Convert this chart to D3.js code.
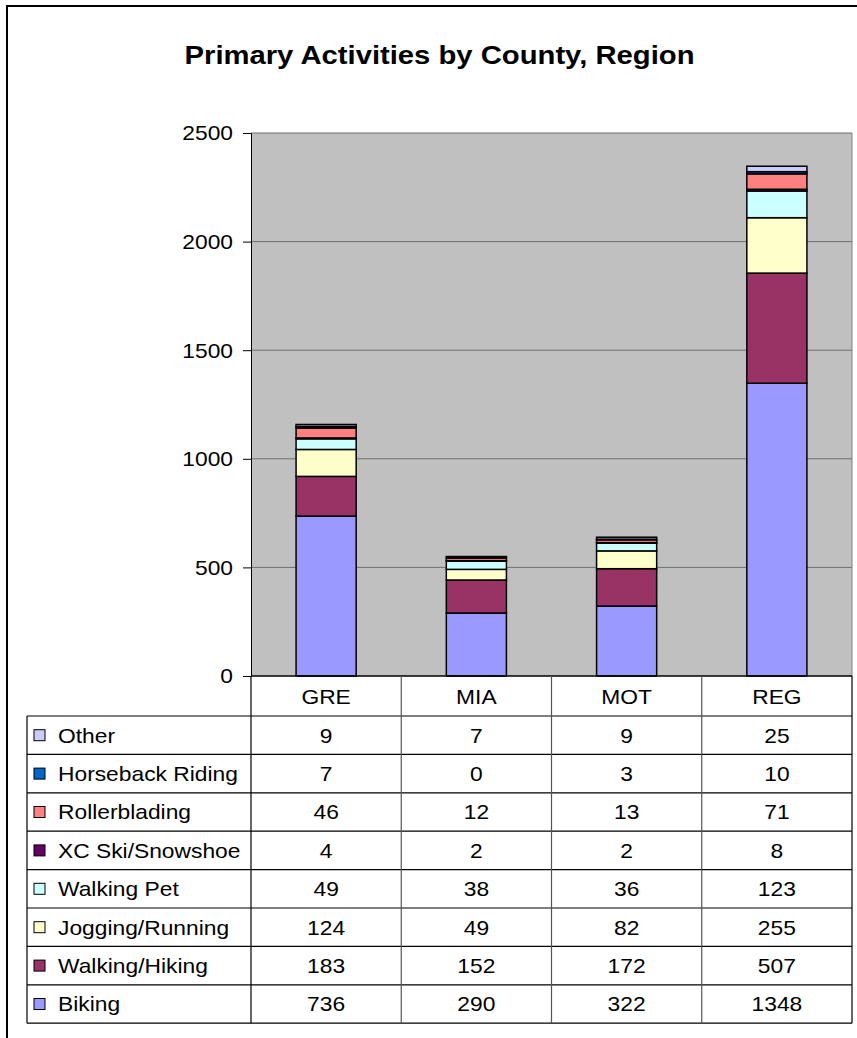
<!DOCTYPE html>
<html>
<head>
<meta charset="utf-8">
<script src="https://cdn.jsdelivr.net/npm/d3@7"></script>
<style>
  html, body { margin: 0; padding: 0; background: #fff; }
  svg { display: block; }
  text { font-family: "Liberation Sans", Arial, sans-serif; fill: #000; }
</style>
</head>
<body>
<svg id="chart" width="857" height="1038"></svg>
<script>
// Counties / region shown along the category axis
const categories = ["GRE", "MIA", "MOT", "REG"];

// Activities, bottom of the stack first
const activities = [
  "Biking", "Walking/Hiking", "Jogging/Running", "Walking Pet",
  "XC Ski/Snowshoe", "Rollerblading", "Horseback Riding", "Other"
];

// Counts per activity, in category order
const biking          = [736, 290, 322, 1348];
const walkingHiking   = [183, 152, 172, 507];
const joggingRunning  = [124, 49, 82, 255];
const walkingPet      = [49, 38, 36, 123];
const xcSkiSnowshoe   = [4, 2, 2, 8];
const rollerblading   = [46, 12, 13, 71];
const horsebackRiding = [7, 0, 3, 10];
const other           = [9, 7, 9, 25];

const seriesValues = [biking, walkingHiking, joggingRunning, walkingPet,
                      xcSkiSnowshoe, rollerblading, horsebackRiding, other];

const yTicks = [0, 500, 1000, 1500, 2000, 2500];

const colors = ["#9999FF", "#993366", "#FFFFCC", "#CCFFFF",
                "#660066", "#FF8080", "#0066CC", "#CCCCFF"];

const title = "Primary Activities by County, Region";

// ---- layout ----
const plot = { left: 251, right: 852, top: 133, bottom: 676 };
const table = { left: 27, headerH: 40, rowH: 38.4 };
const sx = 1.14;     // horizontal stretch of all text
const fs = 20;

const svg = d3.select("#chart");

// rows keyed by category for d3.stack
const rows = categories.map((c, i) => {
  const r = { category: c };
  activities.forEach((a, k) => { r[a] = seriesValues[k][i]; });
  return r;
});
const stacked = d3.stack().keys(activities)(rows);

const x = d3.scaleBand().domain(categories)
  .range([plot.left, plot.right]).paddingInner(0.6).paddingOuter(0.3);
const xCol = d3.scaleBand().domain(categories).range([plot.left, plot.right]);
const y = d3.scaleLinear().domain([0, 2500]).range([plot.bottom, plot.top]);

function stretchedText(parent, tx, ty, str, opts = {}) {
  const g = parent.append("g")
    .attr("transform", `translate(${tx},${ty}) scale(${opts.sx || sx},1)`);
  g.append("text")
    .attr("text-anchor", opts.anchor || "start")
    .attr("font-size", opts.size || fs)
    .attr("font-weight", opts.weight || "normal")
    .text(str);
  return g;
}

// outer frame
svg.append("rect")
  .attr("x", 7).attr("y", 6).attr("width", 900).attr("height", 1100)
  .attr("fill", "#fff").attr("stroke", "#000").attr("stroke-width", 2);

// title
stretchedText(svg, 439.5, 64, title, { anchor: "middle", size: 25, weight: "bold", sx: 1.17 });

// plot background
svg.append("rect")
  .attr("x", plot.left).attr("y", plot.top)
  .attr("width", plot.right - plot.left).attr("height", plot.bottom - plot.top)
  .attr("fill", "#C0C0C0");

// gridlines
svg.append("g").selectAll("line")
  .data(yTicks.filter(t => t > 0))
  .join("line")
  .attr("x1", plot.left).attr("x2", plot.right)
  .attr("y1", d => y(d)).attr("y2", d => y(d))
  .attr("stroke", "#6e6e6e").attr("stroke-width", 1);

// plot border (right side)
svg.append("line")
  .attr("x1", plot.right).attr("x2", plot.right)
  .attr("y1", plot.top).attr("y2", plot.bottom)
  .attr("stroke", "#808080").attr("stroke-width", 1);

// stacked bars
svg.append("g").selectAll("g")
  .data(stacked)
  .join("g")
  .attr("fill", (d, i) => colors[i])
  .selectAll("rect")
  .data(d => d)
  .join("rect")
  .attr("x", d => x(d.data.category))
  .attr("width", x.bandwidth())
  .attr("y", d => y(d[1]))
  .attr("height", d => y(d[0]) - y(d[1]))
  .attr("stroke", "#000").attr("stroke-width", 1.5);

// y axis
const yAxis = svg.append("g")
  .attr("transform", `translate(${plot.left},0)`)
  .call(d3.axisLeft(y).tickValues(yTicks).tickSize(8).tickFormat(""));
yAxis.select(".domain").attr("stroke", "#000");
yAxis.selectAll(".tick line").attr("stroke", "#000");
yTicks.forEach(t => {
  stretchedText(svg, 233, y(t) + 7.3, String(t), { anchor: "end" });
});

// ---- data table ----
const tableTop = plot.bottom + table.headerH;
const tableBottom = tableTop + table.rowH * activities.length;
const lines = svg.append("g").attr("stroke", "#000").attr("stroke-width", 1.2);

// axis line along the top of the header row
lines.append("line").attr("x1", plot.left).attr("x2", plot.right)
  .attr("y1", plot.bottom).attr("y2", plot.bottom).attr("stroke-width", 1.5);
// row separators
d3.range(activities.length + 1).forEach(i => {
  const yy = tableTop + i * table.rowH;
  lines.append("line").attr("x1", table.left).attr("x2", plot.right)
    .attr("y1", yy).attr("y2", yy);
});
// outer verticals
lines.append("line").attr("x1", table.left).attr("x2", table.left)
  .attr("y1", tableTop).attr("y2", tableBottom);
lines.append("line").attr("x1", plot.left).attr("x2", plot.left)
  .attr("y1", plot.bottom).attr("y2", tableBottom);
lines.append("line").attr("x1", plot.right).attr("x2", plot.right)
  .attr("y1", plot.bottom).attr("y2", tableBottom);
// inner column separators
categories.slice(1).forEach(c => {
  lines.append("line").attr("x1", xCol(c)).attr("x2", xCol(c))
    .attr("y1", plot.bottom).attr("y2", tableBottom)
    .attr("stroke", "#555");
});

// header labels
categories.forEach(c => {
  stretchedText(svg, xCol(c) + xCol.bandwidth() / 2, plot.bottom + 28, c, { anchor: "middle" });
});

// table body: top row is the last activity in the stack
const displayOrder = activities.map((a, k) => k).reverse();
displayOrder.forEach((k, r) => {
  const rowTop = tableTop + r * table.rowH;
  const mid = rowTop + table.rowH / 2;
  svg.append("rect")
    .attr("x", 34).attr("y", mid - 5.5)
    .attr("width", 11).attr("height", 11)
    .attr("fill", colors[k]).attr("stroke", "#000").attr("stroke-width", 1);
  stretchedText(svg, 58, mid + 7.3, activities[k]);
  categories.forEach((c, i) => {
    stretchedText(svg, xCol(c) + xCol.bandwidth() / 2, mid + 7.3,
      String(seriesValues[k][i]), { anchor: "middle" });
  });
});
</script>
</body>
</html>
